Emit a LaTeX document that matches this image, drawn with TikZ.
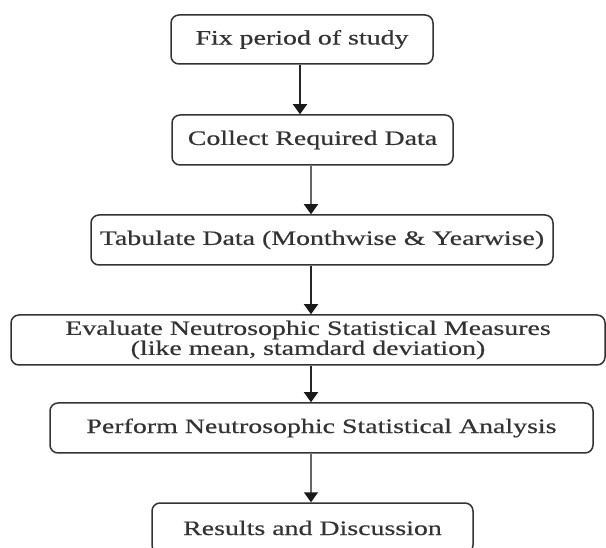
\documentclass[tikz,border=0pt]{standalone}
\usepackage{fontspec}
\setmainfont{Liberation Serif}[FakeStretch=1.36,FakeBold=0.5]
\usetikzlibrary{arrows.meta}
\begin{document}
\begin{tikzpicture}[x=1pt,y=-1pt,
  box/.style={draw=black!80, line width=1.5pt, rounded corners=8pt, align=center,
    inner sep=0pt, minimum height=50pt, font=\fontsize{20.5}{20}\selectfont, text=black!80},
  arr/.style={draw=black!85, line width=1.5pt, -{Triangle[length=10pt,width=14pt,color=black!90]}},
  garr/.style={arr, draw=black!60}]
\clip (0,0) rectangle (606,548);
\fill[white] (0,0) rectangle (606,548);
\node[box, minimum width=262pt, minimum height=49pt] (b1) at (302,39.5) {Fix period of study};
\node[box, minimum width=281pt] (b2) at (312.5,140) {Collect Required Data};
\node[box, minimum width=462pt] (b3) at (322,240) {Tabulate Data (Monthwise \& Yearwise)};
\node[box, minimum width=594pt] (b4) at (308,340) {Evaluate Neutrosophic Statistical Measures\\(like mean, stamdard deviation)};
\node[box, minimum width=543pt] (b5) at (321.5,428) {Perform Neutrosophic Statistical Analysis};
\node[box, minimum width=321pt] (b6) at (312.5,528) {Results and Discussion};
\coordinate (c1) at (300,0);
\coordinate (c) at (311,0);
\draw[arr] (b1.south -| c1) -- (b2.north -| c1);
\draw[garr] (b2.south -| c) -- (b3.north -| c);
\draw[arr] (b3.south -| c) -- (b4.north -| c);
\draw[arr] (b4.south -| c) -- (b5.north -| c);
\draw[garr] (b5.south -| c) -- (b6.north -| c);
\end{tikzpicture}
\end{document}
